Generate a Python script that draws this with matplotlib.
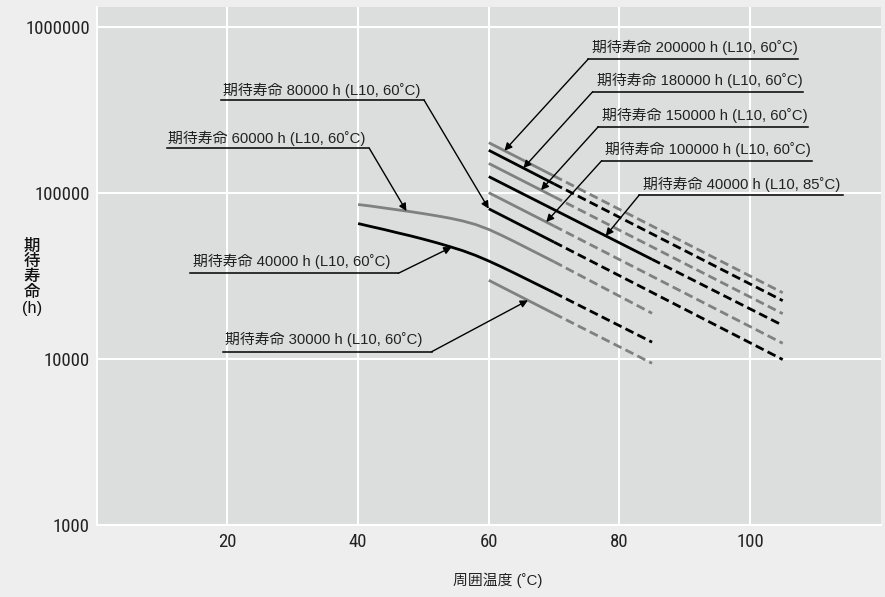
import numpy as np
import matplotlib
matplotlib.use("Agg")
import matplotlib.pyplot as plt
from matplotlib import font_manager

# ---------------- data ----------------
# straight lines: temperatures (°C) -> expected life (h); solid to the break, dashed after
t_line = [60, 70, 105]
life_200k = [200000, 126000, 25000]
life_180k = [180000, 113000, 22400]
life_150k = [150000, 94500, 18700]
life_100k = [100000, 63000, 12400]
life_80k = [80000, 50400, 9900]
t_line85 = [60, 85, 105]
life_40k_85 = [125000, 39700, 15900]
t_line30 = [60, 70, 85]
life_30k = [29700, 18700, 9400]
# curved lines starting at 40 °C
t_curve = [40, 42, 44, 46, 48, 50, 52, 54, 56, 58, 60, 62, 64, 70, 85]
life_60k = [84900, 83000, 80900, 78900, 76900, 74800, 72600, 70300, 67600,
            64300, 60100, 55300, 50600, 38400, 18800]
life_40k = [65200, 62500, 60000, 57400, 55000, 52500, 50000, 47400, 44800,
            41900, 38800, 35700, 32700, 25000, 12600]

x_ticks = [20, 40, 60, 80, 100]
y_ticks = [1000, 10000, 100000, 1000000]
y_ticklabels = ["1000", "10000", "100000", "1000000"]

labels = [
    "期待寿命 200000 h (L10, 60˚C)",
    "期待寿命 180000 h (L10, 60˚C)",
    "期待寿命 150000 h (L10, 60˚C)",
    "期待寿命 100000 h (L10, 60˚C)",
    "期待寿命 40000 h (L10, 85˚C)",
    "期待寿命 80000 h (L10, 60˚C)",
    "期待寿命 60000 h (L10, 60˚C)",
    "期待寿命 40000 h (L10, 60˚C)",
    "期待寿命 30000 h (L10, 60˚C)",
]
label_target_temp = [62.4, 65.3, 68.0, 68.8, 77.9, 60.0, 47.4, 54.3, 66.0]

GRAY = "#808080"
BLACK = "#000000"
series = [
    (t_line, life_200k, GRAY, 1),
    (t_line, life_180k, BLACK, 1),
    (t_line, life_150k, GRAY, 1),
    (t_line85, life_40k_85, BLACK, 1),
    (t_line, life_100k, GRAY, 1),
    (t_line, life_80k, BLACK, 1),
    (t_line30, life_30k, GRAY, 1),
    (t_curve, life_60k, GRAY, 13),
    (t_curve, life_40k, BLACK, 13),
]
# which series each label points to
label_series = [0, 1, 2, 4, 3, 5, 7, 8, 6]

ylabel_chars = ["期", "待", "寿", "命", "(h)"]
xlabel_text = "周囲温度 (˚C)"

# ---------------- fonts ----------------
avail = {f.name for f in font_manager.fontManager.ttflist}
narrow = None
for cand in ["Liberation Sans Narrow", "DejaVu Sans Condensed", "Roboto Condensed", "Roboto"]:
    if cand in avail:
        narrow = cand
        break
JP = ["Liberation Sans", "Noto Sans CJK JP", "DejaVu Sans"]
NUM = [narrow, "Liberation Sans", "DejaVu Sans"]
TXT = "#222222"

# ---------------- figure ----------------
W, H = 885, 597
fig = plt.figure(figsize=(W / 100, H / 100), dpi=100, facecolor="#eeeeee")
ax = fig.add_axes([96.8 / W, 1 - 525 / H, (880.7 - 96.8) / W, (525 - 7.3) / H])
ax.set_facecolor("#dcdddd")
ax.set_yscale("log")
ax.set_xlim(0, 120)
ax.set_ylim(1000, 10 ** (6 + (26.5 - 7.3) / 166))

ax.set_xticks(x_ticks)
ax.set_xticklabels([str(v) for v in x_ticks], family=NUM, fontsize=13.5, color=TXT)
ax.set_yticks(y_ticks)
ax.set_yticklabels(y_ticklabels, family=NUM, fontsize=13.5, color=TXT)
ax.yaxis.set_minor_locator(matplotlib.ticker.NullLocator())
ax.tick_params(length=0)
ax.tick_params(axis="y", pad=5)
ax.tick_params(axis="x", pad=6)
ax.grid(True, color="white", lw=1.5)
ax.set_axisbelow(True)
for s in ["top", "right"]:
    ax.spines[s].set_visible(False)
for s in ["left", "bottom"]:
    ax.spines[s].set_color("white")
    ax.spines[s].set_linewidth(1.5)

for t, v, c, brk in series:
    t = np.asarray(t, float)
    v = np.asarray(v, float)
    ax.plot(t[: brk + 1], v[: brk + 1], color=c, lw=2.0, solid_capstyle="butt",
            solid_joinstyle="round", zorder=3)
    ax.plot(t[brk:], v[brk:], color=c, lw=2.0, dashes=(3.2, 1.6), dash_capstyle="butt", zorder=3)


def P(px, py):
    return (px / W, 1 - py / H)


# label layout in pixels: text left, text center y, underline y, underline x0, x1, leader side
layout = [
    (591.7, 47.3, 59.0, 588.3, 798.3, "L"),
    (596.7, 80.7, 91.7, 592.7, 802.7, "L"),
    (601.7, 115.7, 126.7, 598.3, 808.3, "L"),
    (605.0, 149.3, 160.7, 601.7, 811.7, "L"),
    (643.3, 184.3, 195.0, 639.3, 843.3, "L"),
    (223.3, 90.0, 100.0, 221.0, 424.0, "R"),
    (168.3, 138.3, 148.3, 167.3, 369.3, "R"),
    (192.7, 261.7, 273.3, 190.0, 398.3, "R"),
    (225.0, 339.3, 351.7, 223.3, 431.7, "R"),
]

for lab, T, si, (tx, ty, uy, ux0, ux1, side) in zip(labels, label_target_temp, label_series, layout):
    ts, vs = series[si][0], series[si][1]
    v = 10 ** np.interp(T, ts, np.log10(vs))
    fig.text(*P(tx, ty), lab, family=JP, fontsize=10.7, color=TXT, ha="left", va="center")
    fig.add_artist(plt.Line2D([ux0 / W, ux1 / W], [1 - uy / H, 1 - uy / H],
                              transform=fig.transFigure, color="black", lw=1.1))
    start = P(ux0, uy) if side == "L" else P(ux1, uy)
    ax.annotate("", xy=(T, v), xycoords="data", xytext=start, textcoords="figure fraction",
                arrowprops=dict(arrowstyle="-|>", color="black", lw=1.0, mutation_scale=11,
                                shrinkA=0, shrinkB=0), zorder=4)

# axis labels
for ch, cy in zip(ylabel_chars, [246.7, 261.6, 276.7, 292.0, 309.0]):
    fig.text(*P(31.7, cy), ch, family=JP, fontsize=11.8, color="#111111",
             ha="center", va="center", weight="medium")
fig.text(*P(498, 580), xlabel_text, family=JP, fontsize=10.7, color=TXT,
         ha="center", va="center")

fig.savefig("out.png", dpi=100, facecolor=fig.get_facecolor())
